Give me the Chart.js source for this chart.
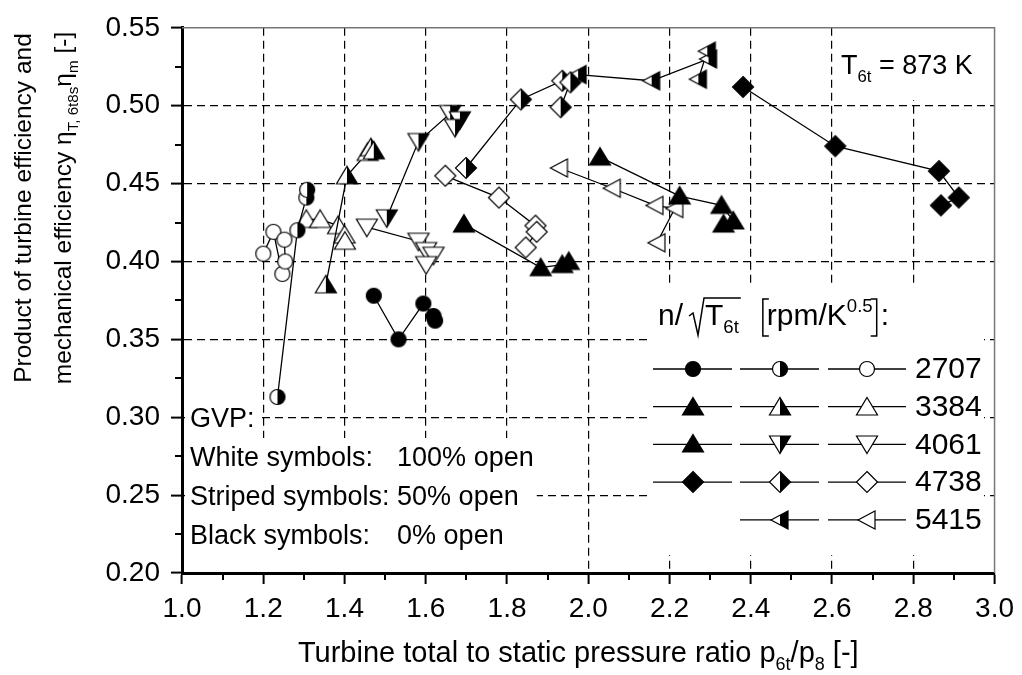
<!DOCTYPE html>
<html>
<head>
<meta charset="utf-8">
<script src="https://cdn.jsdelivr.net/npm/chart.js@4.4.0/dist/chart.umd.min.js"></script>
<style>
  html, body { margin: 0; padding: 0; background: #fff; }
  #wrap { width: 1022px; height: 675px; }
</style>
</head>
<body>
<div id="wrap"><canvas id="c" width="1022" height="675"></canvas></div>
<script>
const FONT = '"Liberation Sans", Arial, sans-serif';

// speed lines n/sqrt(T6t), GVP 0% (black), 50% (half), 100% (white)
const speedLabels = ['2707', '3384', '4061', '4738', '5415'];

const s2707Black = [[1.472, 0.378], [1.533, 0.350], [1.594, 0.373], [1.619, 0.365], [1.623, 0.362]];
const s2707Half  = [[1.235, 0.313], [1.284, 0.420], [1.306, 0.441], [1.308, 0.446]];
const s2707White = [[1.200, 0.405], [1.225, 0.419], [1.247, 0.392], [1.254, 0.400], [1.252, 0.414]];

const s3384Black = [[1.694, 0.424], [1.883, 0.396], [1.936, 0.398], [1.952, 0.400]];
const s3384Half  = [[1.354, 0.385], [1.406, 0.455], [1.457, 0.470], [1.465, 0.473], [1.472, 0.471]];
const s3384White = [[1.306, 0.427], [1.340, 0.427], [1.384, 0.423], [1.400, 0.417], [1.401, 0.413]];

const s4061Black = [[2.029, 0.467], [2.225, 0.442], [2.328, 0.436], [2.357, 0.426], [2.333, 0.424]];
const s4061Half  = [[1.504, 0.428], [1.582, 0.477], [1.660, 0.495], [1.684, 0.491], [1.672, 0.486]];
const s4061White = [[1.455, 0.422], [1.582, 0.413], [1.601, 0.407], [1.619, 0.404], [1.601, 0.398]];

const s4738Black = [[2.381, 0.512], [2.608, 0.474], [2.863, 0.458], [2.912, 0.441], [2.868, 0.436]];
const s4738Half  = [[1.699, 0.460], [1.834, 0.504], [1.936, 0.516], [1.956, 0.515], [1.932, 0.499]];
const s4738White = [[1.648, 0.455], [1.780, 0.441], [1.870, 0.423], [1.873, 0.419], [1.846, 0.409]];

const s5415Half  = [[1.975, 0.520], [2.156, 0.516], [2.296, 0.530], [2.293, 0.535], [2.271, 0.517]];
const s5415White = [[1.929, 0.460], [2.059, 0.447], [2.164, 0.436], [2.213, 0.434], [2.169, 0.412]];

const gvpLines = [['White symbols:', '100% open'], ['Striped symbols:', '50% open'], ['Black symbols:', '0% open']];

// marker shapes
const shapes = {
  circle: g => g.arc(0, 0, 7.5, 0, Math.PI * 2),
  up: g => { g.moveTo(0, -9.5); g.lineTo(10.5, 8); g.lineTo(-10.5, 8); },
  down: g => { g.moveTo(0, 9.5); g.lineTo(10.5, -8); g.lineTo(-10.5, -8); },
  left: g => { g.moveTo(-9, 0); g.lineTo(8, -9); g.lineTo(8, 9); },
  diamond: g => { g.moveTo(0, -10.5); g.lineTo(10.5, 0); g.lineTo(0, 10.5); g.lineTo(-10.5, 0); }
};

const markerCache = {};
function marker(shape, fill) {
  const key = shape + fill;
  if (markerCache[key]) return markerCache[key];
  const s = 26;
  const c = document.createElement('canvas');
  c.width = s; c.height = s;
  const g = c.getContext('2d');
  g.translate(s / 2, s / 2);
  const path = () => { g.beginPath(); shapes[shape](g); g.closePath(); };
  path();
  g.fillStyle = fill === 'black' ? '#000' : '#fff';
  g.fill();
  if (fill === 'half') {
    g.save(); path(); g.clip();
    g.fillStyle = '#000'; g.fillRect(0, -s / 2, s / 2, s);
    g.restore();
  }
  path();
  g.lineWidth = 1.2; g.strokeStyle = '#000'; g.stroke();
  markerCache[key] = c;
  return c;
}

const seriesList = [
  [s2707Black, 'circle', 'black'], [s2707Half, 'circle', 'half'], [s2707White, 'circle', 'white'],
  [s3384Black, 'up', 'black'], [s3384Half, 'up', 'half'], [s3384White, 'up', 'white'],
  [s4061Black, 'up', 'black'], [s4061Half, 'down', 'half'], [s4061White, 'down', 'white'],
  [s4738Black, 'diamond', 'black'], [s4738Half, 'diamond', 'half'], [s4738White, 'diamond', 'white'],
  [s5415Half, 'left', 'half'], [s5415White, 'left', 'white']
];

const legendRows = [
  [['circle', 'black'], ['circle', 'half'], ['circle', 'white']],
  [['up', 'black'], ['up', 'half'], ['up', 'white']],
  [['up', 'black'], ['down', 'half'], ['down', 'white']],
  [['diamond', 'black'], ['diamond', 'half'], ['diamond', 'white']],
  [null, ['left', 'half'], ['left', 'white']]
];

// text with sub/superscripts: parts = [[text, kind]]
function drawRich(ctx, parts, x, y, size, align) {
  const sizes = parts.map(p => p[1] ? size * 0.62 : size);
  let w = 0;
  const widths = parts.map((p, i) => {
    ctx.font = sizes[i] + 'px ' + FONT;
    const m = ctx.measureText(p[0]).width;
    w += m;
    return m;
  });
  let cx = align === 'center' ? x - w / 2 : (align === 'right' ? x - w : x);
  parts.forEach((p, i) => {
    ctx.font = sizes[i] + 'px ' + FONT;
    const dy = p[1] === 'sub' ? size * 0.28 : (p[1] === 'sup' ? -size * 0.42 : 0);
    ctx.fillText(p[0], cx, y + dy);
    cx += widths[i];
  });
  return w;
}

const deco = {
  id: 'deco',
  beforeDatasetsDraw(chart) {
    const ctx = chart.ctx;
    ctx.save();
    ctx.fillStyle = '#fff';
    ctx.font = '27px ' + FONT;
    // GVP text box
    ctx.fillRect(185, 402, ctx.measureText('GVP: ').width, 36);
    const col = ctx.measureText('Striped symbols: ').width;
    ctx.fillRect(185, 438, col + ctx.measureText('100% open').width + 8, 131);
    // speed legend box
    ctx.fillRect(650, 287, 334, 268);
    // temperature box
    ctx.fillRect(839, 28, 159, 72);
    ctx.restore();
  },
  afterDraw(chart) {
    const ctx = chart.ctx;
    const xs = chart.scales.x, ys = chart.scales.y;
    const a = chart.chartArea;
    ctx.save();
    // frame top/right
    ctx.strokeStyle = '#777';
    ctx.lineWidth = 1.5;
    ctx.beginPath();
    ctx.moveTo(a.left, a.top); ctx.lineTo(a.right, a.top); ctx.lineTo(a.right, a.bottom);
    ctx.stroke();
    // minor ticks
    ctx.strokeStyle = '#000';
    ctx.lineWidth = 2;
    ctx.beginPath();
    for (let v = 1.1; v < 3; v += 0.2) {
      const px = Math.round(xs.getPixelForValue(v));
      ctx.moveTo(px, a.bottom); ctx.lineTo(px, a.bottom + 7);
    }
    for (let v = 0.225; v < 0.55; v += 0.05) {
      const py = Math.round(ys.getPixelForValue(v));
      ctx.moveTo(a.left, py); ctx.lineTo(a.left - 7, py);
    }
    ctx.stroke();

    ctx.fillStyle = '#000';
    ctx.textBaseline = 'alphabetic';

    // axis titles
    drawRich(ctx, [['Turbine total to static pressure ratio p', ''], ['6t', 'sub'], ['/p', ''], ['8', 'sub'], [' [-]', '']],
      (a.left + a.right) / 2 - 10, 662, 29, 'center');
    ctx.save();
    ctx.translate(31, 208);
    ctx.rotate(-Math.PI / 2);
    drawRich(ctx, [['Product of turbine efficiency and', '']], 0, 0, 24.5, 'center');
    ctx.restore();
    ctx.save();
    ctx.translate(71, 208);
    ctx.rotate(-Math.PI / 2);
    drawRich(ctx, [['mechanical efficiency \u03b7', ''], ['T, 6t8s', 'sub'], ['\u03b7', ''], ['m', 'sub'], [' [-]', '']], 0, 0, 24.5, 'center');
    ctx.restore();

    // temperature note
    drawRich(ctx, [['T', ''], ['6t', 'sub'], [' = 873 K', '']], 841, 74, 27, 'left');

    // GVP note
    ctx.font = '27px ' + FONT;
    ctx.fillText('GVP:', 190, 427);
    const col = 190 + ctx.measureText('Striped symbols: ').width;
    gvpLines.forEach((l, i) => {
      const by = 466 + i * 39;
      ctx.fillText(l[0], 190, by);
      ctx.fillText(l[1], col, by);
    });

    // speed legend header
    let hx = 658;
    hx += drawRich(ctx, [['n/', '']], hx, 325, 30, 'left') + 6;
    ctx.lineWidth = 1.5;
    ctx.beginPath();
    ctx.moveTo(hx, 316); ctx.lineTo(hx + 4, 313); ctx.lineTo(hx + 9, 335); ctx.lineTo(hx + 15, 298);
    const tStart = hx + 16;
    const tw = drawRich(ctx, [['T', ''], ['6t', 'sub']], tStart, 325, 30, 'left');
    ctx.lineTo(tStart + tw + 2, 298);
    ctx.stroke();
    hx = tStart + tw + 24;
    // brackets
    ctx.beginPath();
    ctx.moveTo(hx + 6, 299); ctx.lineTo(hx, 299); ctx.lineTo(hx, 336); ctx.lineTo(hx + 6, 336);
    ctx.stroke();
    hx += 4;
    hx += drawRich(ctx, [['rpm/K', ''], ['0.5', 'sup']], hx, 325, 30, 'left') + 4;
    ctx.beginPath();
    ctx.moveTo(hx - 6, 299); ctx.lineTo(hx, 299); ctx.lineTo(hx, 336); ctx.lineTo(hx - 6, 336);
    ctx.stroke();
    ctx.font = '30px ' + FONT;
    ctx.fillText(':', hx + 4, 325);

    // speed legend rows
    const segs = [[653, 732], [740, 819], [828, 906]];
    legendRows.forEach((row, r) => {
      const ry = 369 + r * 37.7;
      row.forEach((cell, k) => {
        if (!cell) return;
        const [x0, x1] = segs[k];
        ctx.lineWidth = 1.3;
        ctx.beginPath();
        ctx.moveTo(x0, ry); ctx.lineTo(x1, ry);
        ctx.stroke();
        const m = marker(cell[0], cell[1]);
        ctx.drawImage(m, Math.round((x0 + x1) / 2 - m.width / 2), Math.round(ry - m.height / 2));
      });
      ctx.font = '30px ' + FONT;
      ctx.textBaseline = 'middle';
      ctx.fillText(speedLabels[r], 915, ry + 1);
      ctx.textBaseline = 'alphabetic';
    });
    ctx.restore();
  }
};

const isEdge = (v, lo, hi) => Math.abs(v - lo) < 1e-6 || Math.abs(v - hi) < 1e-6;

new Chart(document.getElementById('c'), {
  type: 'scatter',
  data: {
    datasets: seriesList.map(([pts, shape, fill]) => ({
      data: pts.map(([x, y]) => ({ x, y })),
      showLine: true,
      borderColor: '#000',
      borderWidth: 1.3,
      pointStyle: marker(shape, fill),
      pointRadius: 9,
      pointHoverRadius: 9,
      tension: 0
    }))
  },
  options: {
    responsive: false,
    animation: false,
    devicePixelRatio: 1,
    layout: { padding: { top: 26, right: 22, left: 0, bottom: 0 } },
    plugins: { legend: { display: false }, tooltip: { enabled: false } },
    scales: {
      x: {
        type: 'linear', min: 1, max: 3,
        afterFit: s => { s.height = 102; },
        ticks: {
          stepSize: 0.2, color: '#000', padding: 8,
          font: { family: FONT, size: 28 },
          callback: v => v.toFixed(1)
        },
        grid: {
          color: c => (c.tick && isEdge(c.tick.value, 1, 3)) ? 'rgba(0,0,0,0)' : '#000',
          lineWidth: 1.2, tickColor: '#000', tickWidth: 2, tickLength: 11
        },
        border: { display: true, color: '#000', width: 3, dash: [8, 5] }
      },
      y: {
        type: 'linear', min: 0.2, max: 0.55,
        afterFit: s => { s.width = 182; },
        ticks: {
          stepSize: 0.05, color: '#000', padding: 11,
          font: { family: FONT, size: 28 },
          callback: v => v.toFixed(2)
        },
        grid: {
          color: c => (c.tick && isEdge(c.tick.value, 0.2, 0.55)) ? 'rgba(0,0,0,0)' : '#000',
          lineWidth: 1.2, tickColor: '#000', tickWidth: 2, tickLength: 11
        },
        border: { display: true, color: '#000', width: 3, dash: [8, 5] }
      }
    }
  },
  plugins: [deco]
});
</script>
</body>
</html>
